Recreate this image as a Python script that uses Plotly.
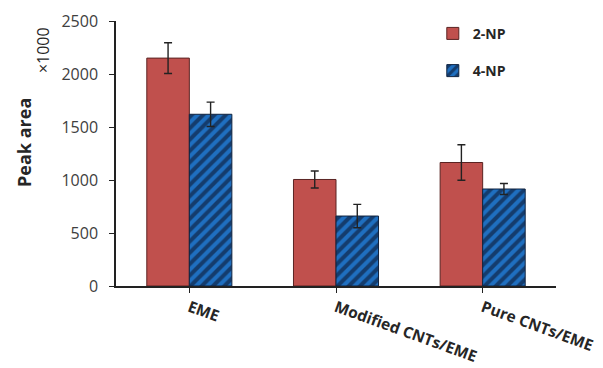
import plotly.graph_objects as go

# Extraction method categories and measured peak areas (x1000)
categories = ["EME", "Modified CNTs/EME", "Pure CNTs/EME"]
np2_values = [2150, 1005, 1165]
np2_errors = [145, 80, 168]
np4_values = [1620, 660, 915]
np4_errors = [115, 110, 52]
y_ticks = [0, 500, 1000, 1500, 2000, 2500]

font_family = "Open Sans, Liberation Sans, Arial, sans-serif"

fig = go.Figure()
fig.add_trace(go.Bar(
    name="<b>2-NP</b>",
    x=categories,
    y=np2_values,
    legendgroup="a",
    marker=dict(color="#c0504d", line=dict(color="#5a2322", width=1)),
    error_y=dict(type="data", array=np2_errors, color="#222222", thickness=1.4, width=4),
))
fig.add_trace(go.Bar(
    name="<b>4-NP</b>",
    x=categories,
    y=np4_values,
    legendgroup="b",
    marker=dict(
        color="#1f6fc0",
        line=dict(color="#10233f", width=1),
        pattern=dict(shape="/", fgcolor="#0a0a1a", size=8, solidity=0.5),
    ),
    error_y=dict(type="data", array=np4_errors, color="#222222", thickness=1.4, width=4),
))

fig.update_layout(
    width=603,
    height=368,
    margin=dict(l=116, r=47, t=21, b=82, autoexpand=False),
    paper_bgcolor="white",
    plot_bgcolor="white",
    barmode="group",
    bargap=0.42,
    bargroupgap=0,
    font=dict(family=font_family, color="#404040", size=14),
    showlegend=True,
    legend=dict(
        x=0.72, y=1.012, xanchor="left", yanchor="top",
        font=dict(size=14, color="#262626"),
        tracegroupgap=16,
        itemwidth=30,
        bgcolor="rgba(0,0,0,0)",
    ),
    xaxis=dict(
        automargin=False,
        showline=True, linecolor="#222222", linewidth=1.5,
        ticks="outside", ticklen=5, tickcolor="#222222",
        tickangle=20,
        tickfont=dict(size=15.5, color="#262626", family=font_family),
        tickprefix="<b>", ticksuffix="</b>",
        showgrid=False,
    ),
    yaxis=dict(
        automargin=False,
        range=[0, 2500],
        tickvals=y_ticks,
        showline=True, linecolor="#222222", linewidth=1.5,
        ticks="outside", ticklen=5, tickcolor="#222222",
        ticklabelstandoff=8,
        tickfont=dict(size=16, color="#404040", family=font_family),
        tickprefix="<b>", ticksuffix="</b>",
        showgrid=False, zeroline=False,
    ),
)

# Axis title and unit multiplier
fig.add_annotation(
    text="<b>Peak area</b>", xref="paper", yref="paper", x=-0.209, y=0.54,
    xanchor="center", yanchor="middle",
    showarrow=False, textangle=-90, font=dict(size=18, color="#262626"),
)
fig.add_annotation(
    text="×1000", xref="paper", yref="paper", x=-0.166, y=0.89,
    xanchor="center", yanchor="middle",
    showarrow=False, textangle=-90, font=dict(size=16, color="#262626"),
)

fig.write_html("out.html")
